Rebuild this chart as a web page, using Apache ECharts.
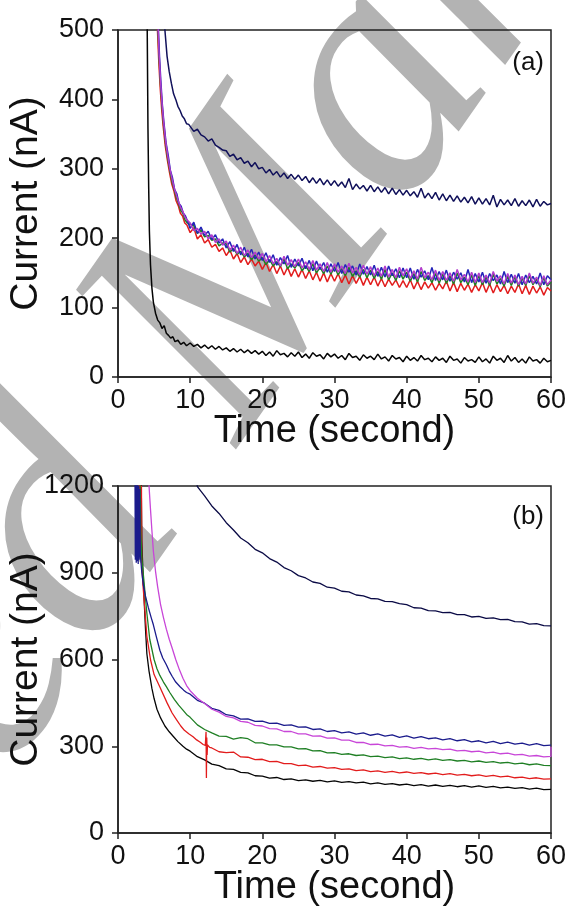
<!DOCTYPE html>
<html><head><meta charset="utf-8">
<script src="https://cdn.jsdelivr.net/npm/echarts@6/dist/echarts.min.js"></script>
<style>html,body{margin:0;padding:0;background:#fff}#c{width:570px;height:910px}</style>
</head><body><div id="c"></div>
<script>
// ---------- axes ----------
const xTicks = [0, 10, 20, 30, 40, 50, 60];
const yTicksA = [0, 100, 200, 300, 400, 500];
const yTicksB = [0, 300, 600, 900, 1200];

// ---------- panel (a): head [t, nA] pairs + tail values sampled every 0.5 s from 10 s ----------
const tailStartA = 10, tailStepA = 0.5;
const blackAHead = [[3.9,900],[4.05,500],[4.15,360],[4.25,275],[4.35,210],[4.5,162],[4.7,128],[4.9,108],[5.2,92],[5.5,82],[5.8,78],[6.1,70],[6.4,74],[6.7,63],[7.0,60],[7.3,56],[7.6,58],[7.9,51],[8.3,53],[8.7,47],[9.1,50],[9.5,45]];
const blackATail = [49,44,47,42,46,41,45,40,44,39, 42,37,41,36,40,35,39,34,38,33, 37,31,36,30,38,32,34,29,35,30, 36,28,33,27,35,30,32,26,34,29, 33,27,31,25,34,28,30,24,32,27, 30,25,33,26,29,23,31,26,28,22, 30,24,28,23,31,25,27,22,29,24, 27,21,30,24,26,20,28,23,25,21, 29,22,26,20,30,24,27,21,31,23, 28,21,26,20,29,23,25,20,27,22, 24];
const navyAHead = [[6.2,600],[6.5,500],[6.8,462],[7.1,440],[7.4,423],[7.7,408],[8.0,400],[8.3,390],[8.6,384],[8.9,376],[9.2,372],[9.5,365],[9.8,364]];
const navyATail = [362,354,357,349,346,340,343,334,331,327, 326,318,321,313,316,308,311,303,309,300, 302,294,299,291,296,288,294,286,292,285, 291,283,289,280,287,279,286,277,284,276, 283,275,281,273,286,270,278,271,276,268, 276,267,274,266,273,264,272,263,270,262, 269,261,267,259,272,258,265,257,266,255, 264,254,262,253,261,252,259,251,260,249, 258,249,257,248,262,245,256,248,255,247, 257,246,254,247,255,245,256,246,253,248, 250];
const magentaAHead = [[5.3,620],[5.5,520],[5.7,465],[5.9,425],[6.1,395],[6.3,370],[6.6,340],[6.9,318],[7.2,300],[7.5,285],[7.8,272],[8.1,262],[8.4,252],[8.7,244],[9.0,238],[9.3,230],[9.6,226]];
const magentaATail = [222,211,214,206,210,199,205,194,199,190, 196,183,190,178,187,175,183,172,180,170, 178,166,175,163,171,160,174,161,169,159, 170,157,166,155,168,154,163,152,165,151, 163,151,160,149,164,150,158,147,161,148, 159,146,157,145,160,144,155,143,158,146, 156,142,153,141,158,143,151,140,154,139, 152,139,150,138,155,140,148,137,151,136, 150,136,147,135,152,138,146,134,149,135, 147,133,145,134,150,135,144,132,146,133, 140];
const blueAHead = [[5.35,620],[5.55,515],[5.75,462],[5.95,424],[6.15,392],[6.35,368],[6.65,338],[6.95,320],[7.25,298],[7.55,287],[7.85,270],[8.15,264],[8.45,250],[8.75,246],[9.05,236],[9.35,232],[9.65,224]];
const blueATail = [214,223,207,216,204,210,198,205,193,199, 186,195,181,191,176,187,173,184,170,180, 168,179,165,176,161,172,163,175,158,170, 160,171,156,168,153,167,155,165,151,163, 152,165,149,162,151,160,147,163,148,159, 147,161,145,158,144,160,146,156,143,157, 143,157,141,155,144,153,140,158,139,152, 140,154,138,151,141,150,137,155,136,149, 137,151,135,149,139,147,134,152,136,148, 135,149,133,147,136,145,134,150,133,146, 140];
const greenAHead = [[5.3,610],[5.5,510],[5.7,458],[5.9,420],[6.1,390],[6.3,365],[6.6,336],[6.9,314],[7.2,297],[7.5,281],[7.8,270],[8.1,258],[8.4,250],[8.7,240],[9.0,236],[9.3,226],[9.6,222]];
const greenATail = [220,218,207,212,202,204,197,199,189,193, 192,180,185,177,181,173,178,169,176,167, 172,162,169,160,166,159,170,156,163,157, 165,153,160,152,163,150,158,149,160,148, 159,147,156,146,158,145,153,144,155,143, 154,142,152,141,155,140,150,139,153,141, 151,138,149,137,152,139,146,136,149,135, 148,135,146,134,150,136,144,133,147,132, 146,133,144,132,148,134,142,131,145,132, 144,131,142,132,146,133,141,130,143,131, 137];
const redAHead = [[5.25,610],[5.45,505],[5.65,455],[5.85,416],[6.05,386],[6.25,362],[6.55,333],[6.85,312],[7.15,294],[7.45,278],[7.75,268],[8.05,254],[8.35,247],[8.65,236],[8.95,232],[9.25,222],[9.55,219]];
const redATail = [208,215,199,205,193,198,187,191,181,186, 175,183,170,178,165,173,162,170,160,167, 155,165,152,162,149,160,147,158,145,156, 144,155,142,153,140,151,138,150,137,149, 138,149,136,147,134,146,135,145,132,144, 133,144,131,142,130,141,132,140,129,139, 129,140,127,138,126,137,128,136,125,135, 127,138,124,136,123,135,125,134,122,133, 124,136,122,134,121,133,123,132,120,131, 122,134,120,132,119,131,121,130,118,129, 124];

// ---------- panel (b): head pairs + tail values every 1 s ----------
const tailStepB = 1;
const navyBHead = [[10.5,1260]];
const navyBStart = 11;
const navyBTail = [1198,1166,1131,1105,1073,1048,1020,1004,981,969,949,937,918,907,890,882,868,863,850,847,836,834,823,820,811,810,801,800,793,790,779,778,769,768,762,763,755,755,747,749,742,744,738,739,731,730,722,724,717,716];
const blueBHead = [[2.35,1260],[2.4,945],[2.47,1230],[2.53,935],[2.6,1215],[2.67,940],[2.73,1205],[2.8,930],[2.87,1200],[2.93,945],[3.0,1190],[3.1,960],[3.3,900],[3.5,860],[3.8,820],[4.2,780],[4.6,745],[4.9,720],[5.3,680],[5.8,632],[6.2,605],[6.7,582],[7.1,560],[7.5,542],[8.0,522],[8.6,506],[9.1,494],[9.5,486]];
const blueBStart = 10;
const blueBTail = [480,459,449,431,424,409,405,394,395,386,387,379,380,372,374,366,367,358,360,351,354,346,350,342,346,338,343,335,339,331,336,328,333,326,329,322,326,319,323,315,319,312,317,309,314,307,311,304,309,302,304];
const magentaBHead = [[4.25,1260],[4.3,1200],[4.5,1120],[4.7,1045],[4.9,975],[5.2,905],[5.5,850],[5.9,790],[6.3,745],[6.7,705],[7.1,670],[7.5,640],[8.0,600],[8.5,565],[9.0,535],[9.5,510]];
const magentaBStart = 10;
const magentaBTail = [492,466,448,428,418,403,398,386,383,372,370,361,360,351,351,343,343,335,336,328,329,321,321,313,313,306,307,301,303,297,299,293,296,291,293,288,290,284,286,281,283,277,280,274,276,270,272,266,268,263,265];
const magentaBEnd = [[60,298]];
const greenBHead = [[3.05,1260],[3.15,1050],[3.3,950],[3.6,870],[4.0,760],[4.4,670],[5.0,600],[5.4,568],[5.8,545],[6.3,522],[6.7,506],[7.2,485],[7.8,462],[8.4,442],[9.0,425],[9.5,410]];
const greenBStart = 10;
const greenBTail = [400,374,358,346,335,334,325,330,326,312,312,305,305,298,298,291,292,284,285,277,278,272,274,268,270,264,266,261,263,257,260,255,258,253,256,251,254,249,251,246,249,244,247,242,244,239,242,236,239,234,233];
const redBHead = [[2.95,1260],[3.0,960],[3.05,1220],[3.1,950],[3.15,1210],[3.2,945],[3.25,1200],[3.3,940],[3.45,860],[3.7,780],[4.0,680],[4.5,600],[5.0,548],[5.8,505],[6.8,450],[7.5,415],[8.1,392],[8.7,370],[9.2,355],[9.8,343],[10.4,333],[10.9,322],[11.4,314],[11.8,306],[12.1,303],[12.2,350],[12.25,190],[12.3,330],[12.35,270],[12.4,305],[12.7,296]];
const redBStart = 13;
const redBTail = [294,281,278,280,263,262,254,255,247,248,240,240,233,235,228,230,224,226,220,222,216,218,212,215,210,213,208,211,206,209,204,207,202,205,200,203,198,201,196,199,194,197,191,193,188,191,186,187];
const blackBHead = [[3.2,1260],[3.3,1010],[3.4,940],[3.5,880],[3.65,790],[3.8,710],[4.0,620],[4.3,560],[4.7,500],[5.0,465],[5.4,428],[5.9,398],[6.5,370],[7.1,350],[7.7,333],[8.3,316],[9.0,300],[9.5,290]];
const blackBStart = 10;
const blackBTail = [283,264,253,238,233,222,220,210,208,198,197,190,192,185,187,181,184,179,182,177,180,175,178,173,176,170,173,168,171,166,169,164,167,162,166,161,165,160,164,159,163,158,161,156,159,154,157,152,155,150,151];

// ---------- build helpers ----------
function build(head, start, step, tail, end) {
  const d = head.map(p => [p[0], p[1]]);
  tail.forEach((v, i) => d.push([Math.round((start + i * step) * 100) / 100, v]));
  (end || []).forEach(p => d.push([p[0], p[1]]));
  return d;
}

const C = {
  black: '#050505', navy: '#10105a', magenta: '#b23ccc', blue: '#2424b8',
  green: '#1f7f24', red: '#e21c1c',
  navyB: '#0a0a45', blueB: '#1b1b8c', magentaB: '#c846d8'
};

function line(data, color, xi, yi, w) {
  return { type: 'line', data: data, xAxisIndex: xi, yAxisIndex: yi, showSymbol: false, symbol: 'none',
    lineStyle: { color: color, width: w || 1.3 }, itemStyle: { color: color }, animation: false, clip: true, z: 3 };
}

const FONT = '"Liberation Sans", Arial, sans-serif';
const tickLabel = { fontFamily: FONT, fontSize: 27, color: '#111', formatter: v => String(v) };
function xAxis(gi) {
  return { type: 'value', gridIndex: gi, min: 0, max: 60, interval: 10,
    name: 'Time (second)', nameLocation: 'middle', nameGap: 36, nameMoveOverlap: false,
    nameTextStyle: { fontFamily: FONT, fontSize: 38, color: '#111' },
    axisLine: { show: true, lineStyle: { color: '#222', width: 1.5 } },
    axisTick: { show: true, inside: false, length: 6, lineStyle: { color: '#222', width: 1.5 } },
    axisLabel: Object.assign({ margin: 10 }, tickLabel),
    splitLine: { show: false } };
}
function yAxis(gi, max, interval) {
  return { type: 'value', gridIndex: gi, min: 0, max: max, interval: interval,
    name: 'Current (nA)', nameLocation: 'middle', nameGap: 72, nameMoveOverlap: false,
    nameTextStyle: { fontFamily: FONT, fontSize: 39, color: '#111' },
    axisLine: { show: true, lineStyle: { color: '#222', width: 1.5 } },
    axisTick: { show: true, inside: false, length: 6, lineStyle: { color: '#222', width: 1.5 } },
    axisLabel: Object.assign({ margin: 14 }, tickLabel),
    splitLine: { show: false } };
}

const WM = { x: 165, y: 395, rot: 55 * Math.PI / 180 };
const chart = echarts.init(document.getElementById('c'), null, { renderer: 'canvas' });
chart.setOption({
  backgroundColor: '#fff',
  animation: false,
  grid: [
    { left: 118, right: 19, top: 30, height: 347, containLabel: false, outerBoundsMode: 'none', show: true, borderColor: '#222', borderWidth: 1.5, backgroundColor: 'transparent' },
    { left: 118, right: 19, top: 486, height: 347, containLabel: false, outerBoundsMode: 'none', show: true, borderColor: '#222', borderWidth: 1.5, backgroundColor: 'transparent' }
  ],
  xAxis: [xAxis(0), xAxis(1)],
  yAxis: [yAxis(0, 500, 100), yAxis(1, 1200, 300)],
  graphic: [
    { type: 'text', z: -10, x: WM.x, y: WM.y, rotation: WM.rot,
      style: { text: 'Accepted ', fontSize: 340, fontStyle: 'italic', fontFamily: '"Liberation Serif", serif', fill: '#b3b3b3', align: 'right', verticalAlign: 'middle' } },
    { type: 'text', z: -10, x: WM.x, y: WM.y, rotation: WM.rot,
      style: { text: 'Manuscript', fontSize: 340, fontStyle: 'italic', fontFamily: '"Liberation Serif", serif', fill: '#b3b3b3', align: 'left', verticalAlign: 'middle' } },
    { type: 'text', x: 544, y: 63, z: 10, style: { text: '(a)', fontSize: 26, fontFamily: FONT, fill: '#111', align: 'right', verticalAlign: 'middle' } },
    { type: 'text', x: 544, y: 517, z: 10, style: { text: '(b)', fontSize: 26, fontFamily: FONT, fill: '#111', align: 'right', verticalAlign: 'middle' } }
  ],
  series: [
    line(build(blackAHead, tailStartA, tailStepA, blackATail), C.black, 0, 0, 1.5),
    line(build(navyAHead, tailStartA, tailStepA, navyATail), C.navy, 0, 0, 1.5),
    line(build(redAHead, tailStartA, tailStepA, redATail), C.red, 0, 0, 1.5),
    line(build(greenAHead, tailStartA, tailStepA, greenATail), C.green, 0, 0, 1.5),
    line(build(blueAHead, tailStartA, tailStepA, blueATail), C.blue, 0, 0, 1.5),
    line(build(magentaAHead, tailStartA, tailStepA, magentaATail), C.magenta, 0, 0, 1.5),

    line(build(blackBHead, blackBStart, tailStepB, blackBTail), C.black, 1, 1),
    line(build(redBHead, redBStart, tailStepB, redBTail), C.red, 1, 1),
    line(build(greenBHead, greenBStart, tailStepB, greenBTail), C.green, 1, 1),
    line(build(blueBHead, blueBStart, tailStepB, blueBTail), C.blueB, 1, 1),
    line(build(magentaBHead, magentaBStart, tailStepB, magentaBTail, magentaBEnd), C.magentaB, 1, 1),
    line(build(navyBHead, navyBStart, tailStepB, navyBTail), C.navyB, 1, 1)
  ]
});
</script>
</body></html>
